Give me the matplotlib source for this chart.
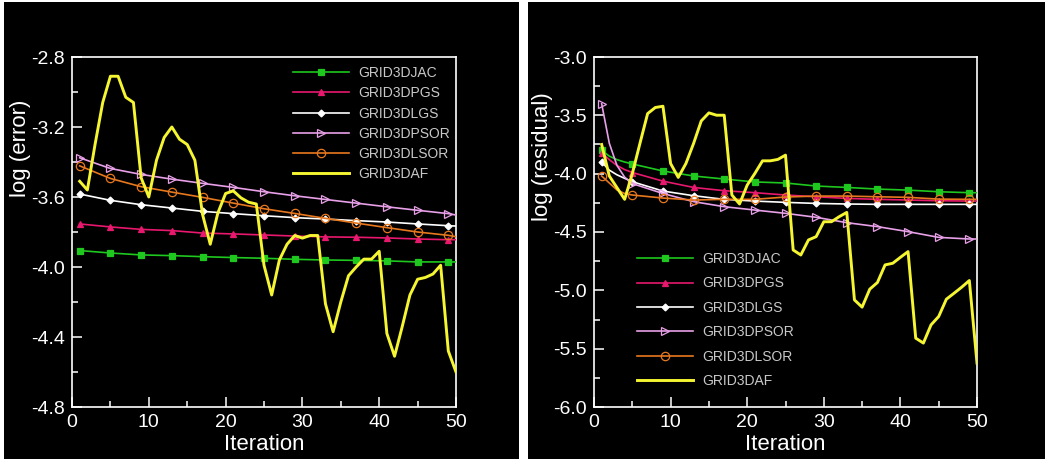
import matplotlib
matplotlib.use("Agg")
import matplotlib.pyplot as plt
from matplotlib.patches import Rectangle
from matplotlib.ticker import MultipleLocator, FormatStrFormatter

plt.rcParams['font.family'] = ['Liberation Sans', 'DejaVu Sans']

# ---------------- data ----------------
series_names = ["GRID3DJAC", "GRID3DPGS", "GRID3DLGS", "GRID3DPSOR", "GRID3DLSOR", "GRID3DAF"]

iter_all = list(range(1, 51))
iter_mk = [1, 5, 9, 13, 17, 21, 25, 29, 33, 37, 41, 45, 49, 50]

# left panel: log(error)
err_jac = [-3.906, -3.920, -3.931, -3.935, -3.941, -3.946, -3.950, -3.956, -3.960, -3.962, -3.965, -3.971, -3.971, -3.971]
err_pgs = [-3.754, -3.771, -3.785, -3.792, -3.806, -3.811, -3.817, -3.823, -3.828, -3.830, -3.834, -3.840, -3.844, -3.844]
err_lgs = [-3.583, -3.619, -3.644, -3.663, -3.682, -3.695, -3.707, -3.718, -3.726, -3.735, -3.743, -3.754, -3.764, -3.766]
err_psor = [-3.376, -3.437, -3.471, -3.498, -3.522, -3.545, -3.570, -3.593, -3.614, -3.635, -3.656, -3.676, -3.695, -3.703]
err_lsor = [-3.422, -3.494, -3.541, -3.572, -3.602, -3.635, -3.667, -3.694, -3.722, -3.749, -3.775, -3.800, -3.819, -3.827]
err_af = [-3.51, -3.56, -3.30, -3.06, -2.91, -2.91, -3.03, -3.06, -3.49, -3.60,
          -3.39, -3.26, -3.20, -3.27, -3.30, -3.39, -3.70, -3.87, -3.69, -3.58,
          -3.565, -3.605, -3.63, -3.64, -3.99, -4.16, -3.96, -3.87, -3.82, -3.835,
          -3.82, -3.82, -4.21, -4.37, -4.20, -4.05, -4.00, -3.955, -3.955, -3.91,
          -4.38, -4.51, -4.34, -4.16, -4.07, -4.06, -4.04, -3.99, -4.48, -4.60]

# right panel: log(residual)
iter_res = [1, 2, 3, 4, 5, 9, 13, 17, 21, 25, 29, 33, 37, 41, 45, 49, 50]
res_jac = [-3.80, -3.85, -3.88, -3.90, -3.917, -3.977, -4.02, -4.046, -4.071, -4.08, -4.106, -4.118, -4.132, -4.141, -4.155, -4.163, -4.163]
res_pgs = [-3.82, -3.88, -3.93, -3.965, -3.990, -4.064, -4.118, -4.146, -4.163, -4.183, -4.198, -4.212, -4.220, -4.226, -4.232, -4.235, -4.235]
res_lgs = [-3.90, -3.97, -4.01, -4.04, -4.069, -4.149, -4.189, -4.220, -4.235, -4.246, -4.255, -4.260, -4.263, -4.263, -4.263, -4.263, -4.263]
res_psor = [-3.40, -3.74, -3.93, -4.03, -4.085, -4.17, -4.240, -4.283, -4.312, -4.340, -4.374, -4.420, -4.454, -4.497, -4.546, -4.560, -4.560]
res_lsor = [-4.02, -4.08, -4.14, -4.17, -4.183, -4.209, -4.226, -4.22, -4.22, -4.20, -4.192, -4.192, -4.198, -4.203, -4.218, -4.22, -4.22]
res_af = [-3.75, -4.02, -4.12, -4.22, -4.00, -3.74, -3.485, -3.433, -3.422, -3.913,
          -4.032, -3.913, -3.741, -3.548, -3.479, -3.499, -3.499, -4.183, -4.260, -4.098,
          -3.998, -3.890, -3.890, -3.878, -3.841, -4.654, -4.697, -4.568, -4.540, -4.412,
          -4.412, -4.369, -4.332, -5.082, -5.144, -4.990, -4.933, -4.782, -4.768, -4.717,
          -4.668, -5.410, -5.452, -5.296, -5.224, -5.076, -5.025, -4.973, -4.916, -5.624]

# ---------------- styles ----------------
colors = ['#1ec81e', '#e8186e', '#ffffff', '#e8a0e8', '#e8781e', '#f5f532']
markers = ['s', '^', 'D', '>', 'o', None]
msizes = [4, 5, 3.5, 6, 6, 0]
mfaces = ['#1ec81e', '#e8186e', '#ffffff', 'none', 'none', 'none']

W, H = 1045, 459
fig = plt.figure(figsize=(W / 100, H / 100), dpi=100, facecolor='white')

# black panel backgrounds
fig.patches.append(Rectangle((4 / W, 0), (519 - 4) / W, 457 / H, transform=fig.transFigure,
                             facecolor='black', edgecolor='none', zorder=-10))
fig.patches.append(Rectangle((528 / W, 0), (W - 528) / W, 457 / H, transform=fig.transFigure,
                             facecolor='black', edgecolor='none', zorder=-10))

ax1 = fig.add_axes([72 / W, 52 / H, 384 / W, 350 / H])
ax2 = fig.add_axes([594 / W, 52 / H, 383 / W, 350 / H])
ax1.set_zorder(5)
ax2.set_zorder(5)


def style(ax, ylo, yhi, ymaj, ymin, ylabel, ylab_y):
    ax.set_facecolor('black')
    for s in ax.spines.values():
        s.set_color('white')
        s.set_linewidth(1.2)
    ax.set_xlim(0, 50)
    ax.set_ylim(ylo, yhi)
    ax.xaxis.set_major_locator(MultipleLocator(10))
    ax.xaxis.set_minor_locator(MultipleLocator(5))
    ax.yaxis.set_major_locator(MultipleLocator(ymaj))
    ax.yaxis.set_minor_locator(MultipleLocator(ymin))
    ax.yaxis.set_major_formatter(FormatStrFormatter('%.1f'))
    ax.tick_params(which='both', direction='in', colors='white', top=False, right=False, width=1.1)
    ax.tick_params(which='major', length=7, labelsize=14, pad=5)
    ax.tick_params(which='minor', length=4)
    ax.set_xlabel('Iteration', color='white', fontsize=16, labelpad=2)
    ax.set_ylabel(ylabel, color='white', fontsize=16, va='center')
    ax.yaxis.set_label_coords(-0.135, ylab_y)


def mk_idx(xs):
    return [i for i, v in enumerate(xs) if v % 4 == 1]


def draw(ax, xs_list, ys_list):
    for i, (xs, ys) in enumerate(zip(xs_list, ys_list)):
        if markers[i] is None:
            ax.plot(xs, ys, color=colors[i], lw=2.1, label=series_names[i], zorder=5)
        else:
            ax.plot(xs, ys, color=colors[i], lw=1.2, marker=markers[i], ms=msizes[i],
                    mfc=mfaces[i], mec=colors[i], mew=0.9, markevery=mk_idx(xs),
                    label=series_names[i], zorder=3 + i * 0.1)


style(ax1, -4.8, -2.8, 0.4, 0.2, 'log (error)', 0.74)
draw(ax1, [iter_mk] * 5 + [iter_all], [err_jac, err_pgs, err_lgs, err_psor, err_lsor, err_af])

style(ax2, -6.0, -3.0, 0.5, 0.25, 'log (residual)', 0.714)
draw(ax2, [iter_res] * 5 + [iter_all], [res_jac, res_pgs, res_lgs, res_psor, res_lsor, res_af])

leg_kw = dict(frameon=False, numpoints=1, handlelength=4.0, handletextpad=0.7,
              fontsize=10, labelcolor='#c8c8c8', borderaxespad=0, borderpad=0)
ax1.legend(loc='upper left', bbox_to_anchor=((293 - 72) / 384, (407 - 66) / 350),
           labelspacing=0.45, **leg_kw)
ax2.legend(loc='upper left', bbox_to_anchor=((637 - 594) / 383, (407 - 252) / 350),
           labelspacing=0.75, **leg_kw)

fig.savefig('out.png', dpi=100, facecolor='white')
